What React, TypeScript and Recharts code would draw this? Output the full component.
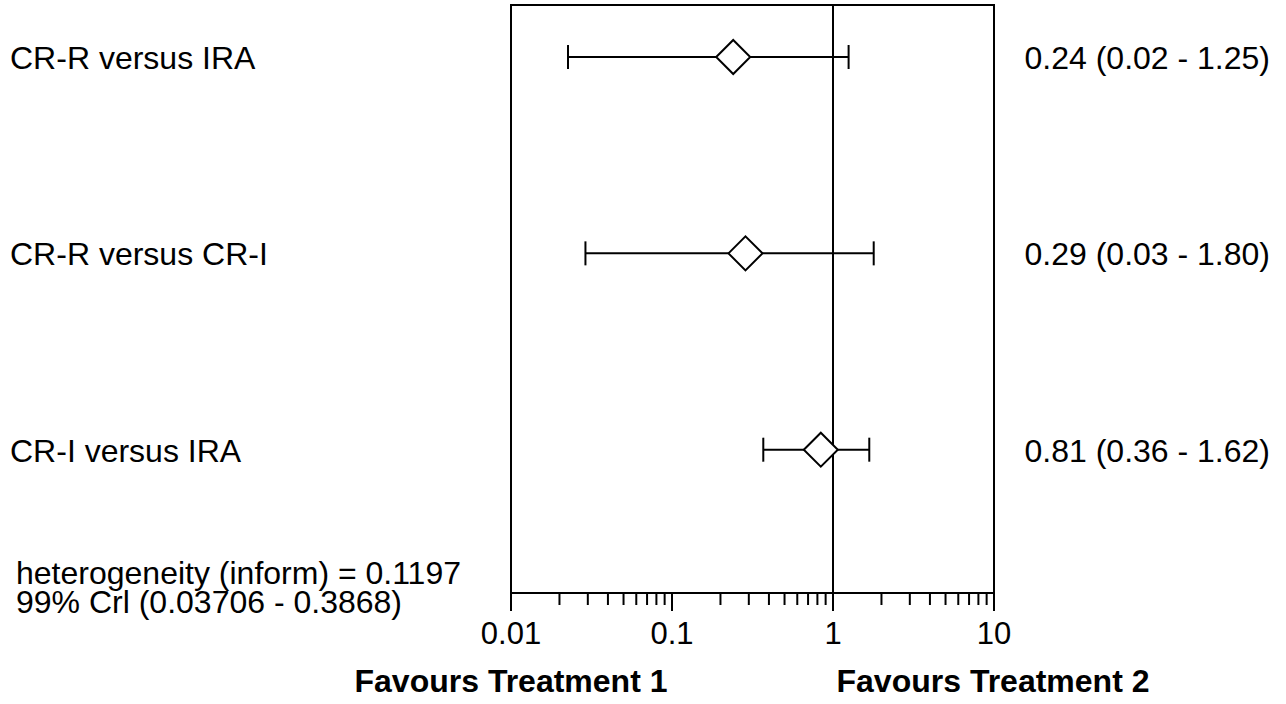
import {
  ErrorBar,
  ReferenceArea,
  ReferenceLine,
  Scatter,
  ScatterChart,
  XAxis,
  YAxis,
} from 'recharts'

const comparisons = ['CR-R versus IRA', 'CR-R versus CR-I', 'CR-I versus IRA']
const estimates = [0.24, 0.286, 0.84]
const lowers = [0.0226, 0.029, 0.369]
const uppers = [1.25, 1.79, 1.68]
const summaries = ['0.24 (0.02 - 1.25)', '0.29 (0.03 - 1.80)', '0.81 (0.36 - 1.62)']

const majorTicks = [0.01, 0.1, 1, 10]
const xTicks = [
  0.01, 0.02, 0.03, 0.04, 0.05, 0.06, 0.07, 0.08, 0.09,
  0.1, 0.2, 0.3, 0.4, 0.5, 0.6, 0.7, 0.8, 0.9,
  1, 2, 3, 4, 5, 6, 7, 8, 9, 10,
]
const heterogeneity = ['heterogeneity (inform) = 0.1197', '99% Crl (0.03706 - 0.3868)']
const sideLabels = ['Favours Treatment 1', 'Favours Treatment 2']

const FONT = '"Liberation Sans", Arial, sans-serif'
const W = 1286
const H = 704

const rows = comparisons.map((name, i) => ({
  name,
  row: i,
  est: estimates[i],
  err: [estimates[i] - lowers[i], uppers[i] - estimates[i]],
}))

function Diamond(props: any) {
  const { cx, cy } = props
  const r = 17
  return (
    <path
      d={`M${cx - r},${cy} L${cx},${cy - r} L${cx + r},${cy} L${cx},${cy + r} Z`}
      fill="#fff"
      stroke="#000"
      strokeWidth={2}
    />
  )
}

function XTick(props: any) {
  const { x, y, payload } = props
  const major = majorTicks.includes(payload.value)
  return (
    <g>
      <line x1={x} x2={x} y1={y} y2={y + (major ? 18 : 12)} stroke="#000" strokeWidth={2} />
      {major && (
        <text x={x} y={y + 51} textAnchor="middle" fontSize={31} fontFamily={FONT} fill="#000">
          {payload.value}
        </text>
      )}
    </g>
  )
}

// row labels on the left, estimate (CrI) text on the right, same row position
function RowTick(props: any) {
  const { y, payload } = props
  return (
    <g>
      <text x={10} y={y + 12} textAnchor="start" fontSize={32} fontFamily={FONT} fill="#000">
        {comparisons[payload.value]}
      </text>
      <text x={1270} y={y + 12} textAnchor="end" fontSize={32} fontFamily={FONT} fill="#000">
        {summaries[payload.value]}
      </text>
    </g>
  )
}

export default function App() {
  return (
    <div style={{ position: 'absolute', left: 0, top: 0, width: W, height: H, background: '#fff' }}>
      <ScatterChart width={W} height={H} margin={{ top: 5, right: 292, bottom: 51, left: 10 }}>
        <XAxis
          type="number"
          dataKey="est"
          scale="log"
          domain={[0.01, 10]}
          ticks={xTicks}
          interval={0}
          height={60}
          tickSize={0}
          tickMargin={0}
          tickLine={false}
          axisLine={false}
          tick={<XTick />}
          allowDataOverflow
        />
        <YAxis
          type="number"
          dataKey="row"
          domain={[-0.265, 2.73]}
          reversed
          ticks={[0, 1, 2]}
          width={501}
          tickSize={0}
          tickLine={false}
          axisLine={false}
          tick={<RowTick />}
        />
        <ReferenceArea
          x1={0.01}
          x2={10}
          y1={-0.265}
          y2={2.73}
          fill="none"
          fillOpacity={0}
          stroke="#000"
          strokeWidth={2}
          ifOverflow="visible"
        />
        <ReferenceLine x={1} stroke="#000" strokeWidth={2} />
        <Scatter data={rows} shape={<Diamond />} isAnimationActive={false}>
          <ErrorBar dataKey="err" direction="x" width={12} stroke="#000" strokeWidth={2} isAnimationActive={false} />
        </Scatter>
      </ScatterChart>
      <svg
        width={W}
        height={H}
        style={{ position: 'absolute', left: 0, top: 0, pointerEvents: 'none' }}
      >
        {heterogeneity.map((t, i) => (
          <text key={t} x={16} y={584 + i * 29} fontSize={32} fontFamily={FONT} fill="#000">
            {t}
          </text>
        ))}
        {sideLabels.map((t, i) => (
          <text
            key={t}
            x={i === 0 ? 511 : 993}
            y={692}
            textAnchor="middle"
            fontSize={32}
            fontWeight="bold"
            fontFamily={FONT}
            fill="#000"
          >
            {t}
          </text>
        ))}
      </svg>
    </div>
  )
}
